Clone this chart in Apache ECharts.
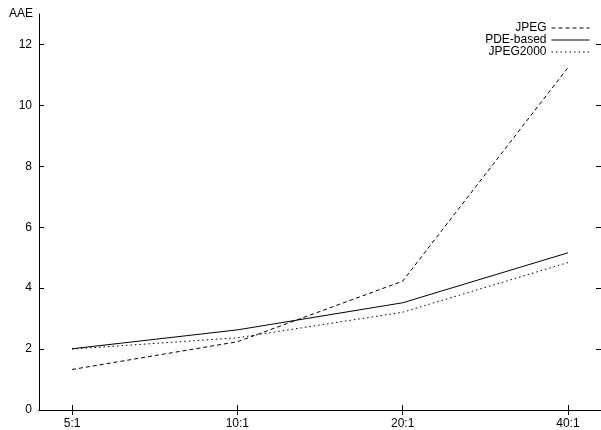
<!DOCTYPE html>
<html>
<head>
<meta charset="utf-8">
<script src="https://cdn.jsdelivr.net/npm/echarts@6/dist/echarts.min.js"></script>
<style>
  html, body { margin: 0; padding: 0; background: #fff; }
  #main { width: 601px; height: 430px; }
</style>
</head>
<body>
<div id="main"></div>
<script>
var ratios = ['5:1', '10:1', '20:1', '40:1'];
var jpeg = [1.33, 2.24, 4.23, 11.24];
var pdeBased = [2.01, 2.63, 3.52, 5.16];
var jpeg2000 = [2.0, 2.37, 3.21, 4.84];
var yTicks = [0, 2, 4, 6, 8, 10, 12];

// x positions 1..n, the axis runs a bit past both ends like gnuplot does
var xPos = ratios.map(function (r, i) { return i + 1; });
function pairs(vals) {
    return vals.map(function (v, i) { return [xPos[i], v]; });
}

var font = 'Liberation Sans, Arial, sans-serif';
var ink = '#000';

var myChart = echarts.init(document.getElementById('main'));
var option = {
    backgroundColor: '#fff',
    animation: false,
    textStyle: { fontFamily: font },
    grid: { left: 39, top: 14, width: 565, height: 396, containLabel: false },
    legend: {
        orient: 'vertical',
        right: 6,
        top: 17,
        align: 'right',
        itemWidth: 38,
        itemHeight: 12,
        itemGap: 0,
        itemStyle: { opacity: 0 },
        lineStyle: { width: 1 },
        textStyle: { fontSize: 12, color: ink, fontFamily: font, padding: [0, 0, 0, 0] },
        data: ['JPEG', 'PDE-based', 'JPEG2000']
    },
    xAxis: [
        {
            type: 'value',
            min: 0.8,
            max: 4.2,
            position: 'bottom',
            splitLine: { show: false },
            axisLine: { lineStyle: { color: ink, width: 1 } },
            axisTick: { inside: true, length: 5, customValues: xPos, lineStyle: { color: ink } },
            axisLabel: {
                customValues: xPos,
                margin: 8,
                fontSize: 12,
                color: ink,
                formatter: function (v) { return ratios[Math.round(v) - 1] || ''; }
            }
        },
        {
            type: 'value',
            min: 0.8,
            max: 4.2,
            position: 'top',
            splitLine: { show: false },
            axisLine: { lineStyle: { color: ink, width: 1 } },
            axisTick: { inside: true, length: 5, customValues: xPos, lineStyle: { color: ink } },
            axisLabel: { show: false }
        }
    ],
    yAxis: [
        {
            type: 'value',
            min: 0,
            max: 13,
            position: 'left',
            name: 'AAE',
            nameLocation: 'end',
            nameGap: 0,
            nameTextStyle: { color: ink, fontSize: 12, align: 'right', verticalAlign: 'middle', padding: [0, 6, 0, 0] },
            splitLine: { show: false },
            axisLine: { show: true, lineStyle: { color: ink, width: 1 } },
            axisTick: { show: true, inside: true, length: 5, customValues: yTicks, lineStyle: { color: ink } },
            axisLabel: { customValues: yTicks, margin: 7, fontSize: 12, color: ink }
        },
        {
            type: 'value',
            min: 0,
            max: 13,
            position: 'right',
            splitLine: { show: false },
            axisLine: { show: true, lineStyle: { color: ink, width: 1 } },
            axisTick: { show: true, inside: true, length: 5, customValues: yTicks, lineStyle: { color: ink } },
            axisLabel: { show: false }
        }
    ],
    series: [
        {
            name: 'JPEG',
            type: 'line',
            symbol: 'none',
            color: ink,
            lineStyle: { color: ink, width: 1, type: [4, 3] },
            data: pairs(jpeg)
        },
        {
            name: 'PDE-based',
            type: 'line',
            symbol: 'none',
            color: ink,
            lineStyle: { color: ink, width: 1 },
            data: pairs(pdeBased)
        },
        {
            name: 'JPEG2000',
            type: 'line',
            symbol: 'none',
            color: ink,
            lineStyle: { color: ink, width: 1, type: [1.5, 3] },
            data: pairs(jpeg2000)
        }
    ]
};
myChart.setOption(option);
</script>
</body>
</html>
